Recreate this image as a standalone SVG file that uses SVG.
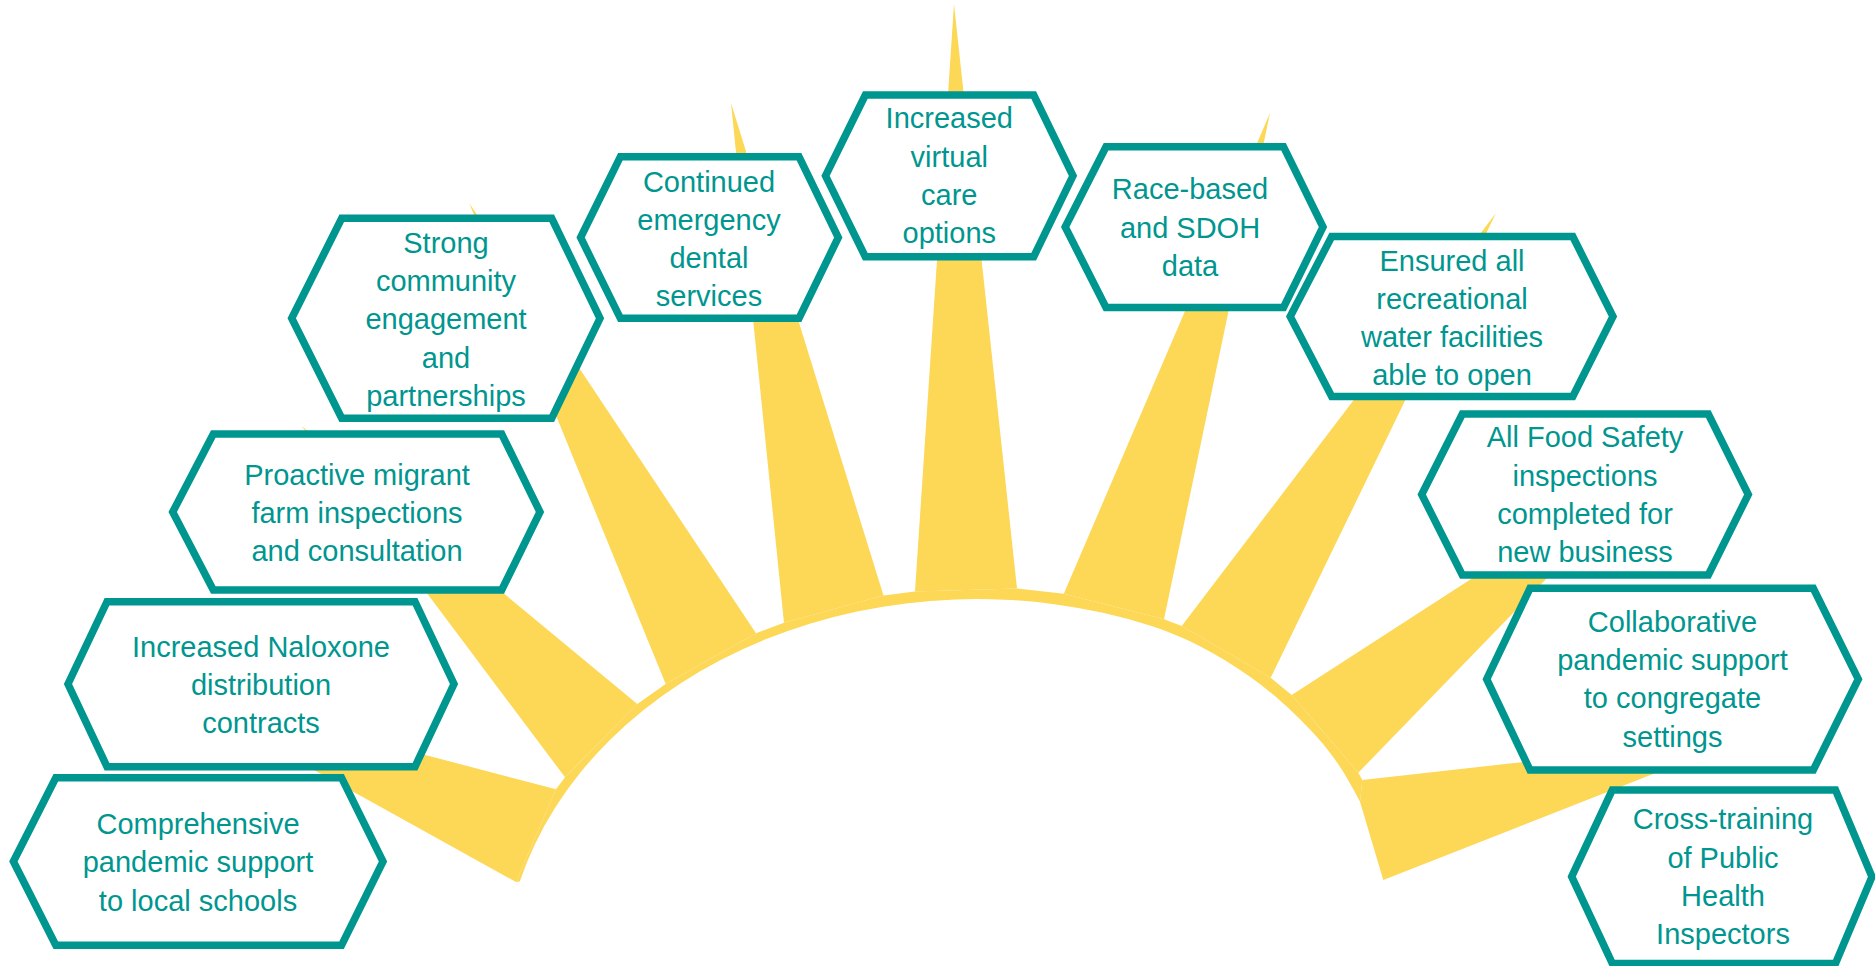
<svg xmlns="http://www.w3.org/2000/svg" width="1875" height="966" viewBox="0 0 1875 966">
<style>
.ray{fill:#FDD756;stroke:none}
.hex{fill:#FFFFFF;stroke:#009690;stroke-width:7.5;stroke-linejoin:miter}
.lbl{font-family:"Liberation Sans",Arial,sans-serif;font-size:29px;fill:#009690;text-anchor:middle}
</style>
<rect x="0" y="0" width="1875" height="966" fill="#FFFFFF"/>
<g id="sun">
  <path class="ray" d="M516,882 L556,789.3 L565,777.3 L637.3,704 L665.7,684 L756,633.3 L784,622.7 L883.5,595.6 L915,591.4 L1017,588.4 L1063.8,593.7 L1164,619.3 L1181.7,626 L1270.7,677.7 L1291.7,695 L1358.3,772.7 L1362.3,780 L1360,801.7 C1348.3,779.5 1337.7,760 1316.7,736.7 C1296.7,714.5 1272.2,692.5 1250,676.7 C1216.7,653 1183.3,636.1 1150,625.5 A474 383.5 0 0 0 519.7,881.6 Z"/>
  <polygon class="ray" points="162.7,686 556,789.3 516,882"/>
  <polygon class="ray" points="301.7,426 637.3,704 565,777.3"/>
  <polygon class="ray" points="469.3,203.3 756,633.3 665.7,684"/>
  <polygon class="ray" points="731,103 883.5,595.6 784,622.7"/>
  <polygon class="ray" points="954,4 1017,588.4 915,591.4"/>
  <polygon class="ray" points="1270,113 1164,619.3 1063.8,593.7"/>
  <polygon class="ray" points="1496,213 1270.7,677.7 1181.7,626"/>
  <polygon class="ray" points="1672,449 1358.3,772.7 1291.7,695"/>
  <polygon class="ray" points="1747,737 1383.3,880 1360,801.7 1362.3,780"/>
</g>
<g id="connectors"></g>
<g id="node-comprehensive">
  <polygon class="hex" points="13.4,861.5 55.8,777.7 341.5,777.7 383,861.5 341.5,945.3 55.8,945.3"/>
  <text class="lbl" x="198" y="834">Comprehensive</text>
  <text class="lbl" x="198" y="872.3">pandemic support</text>
  <text class="lbl" x="198" y="910.6">to local schools</text>
</g>
<g id="node-naloxone">
  <polygon class="hex" points="68,684 107,601.7 415,601.7 454,684 415,766.7 107,766.7"/>
  <text class="lbl" x="261" y="656.7">Increased Naloxone</text>
  <text class="lbl" x="261" y="695">distribution</text>
  <text class="lbl" x="261" y="733.3">contracts</text>
</g>
<g id="node-proactive">
  <polygon class="hex" points="172.7,512 213.3,434 501.7,434 540,512 501.7,590 213.3,590"/>
  <text class="lbl" x="357" y="485">Proactive migrant</text>
  <text class="lbl" x="357" y="523">farm inspections</text>
  <text class="lbl" x="357" y="561">and consultation</text>
</g>
<g id="node-strong">
  <polygon class="hex" points="291.7,318.3 341.7,218.3 551.7,218.3 600,318.3 551.7,418.3 341.7,418.3"/>
  <text class="lbl" x="446" y="252.8">Strong</text>
  <text class="lbl" x="446" y="291.1">community</text>
  <text class="lbl" x="446" y="329.4">engagement</text>
  <text class="lbl" x="446" y="367.7">and</text>
  <text class="lbl" x="446" y="406">partnerships</text>
</g>
<g id="node-dental">
  <polygon class="hex" points="580.6,237.5 620.4,156.7 799,156.7 838.3,237.5 799,318.3 620.4,318.3"/>
  <text class="lbl" x="709" y="191.5">Continued</text>
  <text class="lbl" x="709" y="229.8">emergency</text>
  <text class="lbl" x="709" y="268.1">dental</text>
  <text class="lbl" x="709" y="306.4">services</text>
</g>
<g id="node-virtual">
  <polygon class="hex" points="825.5,175.8 865.3,95 1033.7,95 1073,175.8 1033.7,256.7 865.3,256.7"/>
  <text class="lbl" x="949.3" y="128.3">Increased</text>
  <text class="lbl" x="949.3" y="166.6">virtual</text>
  <text class="lbl" x="949.3" y="204.9">care</text>
  <text class="lbl" x="949.3" y="243.2">options</text>
</g>
<g id="node-race">
  <polygon class="hex" points="1065.2,227 1106,146.7 1283.5,146.7 1323,227 1283.5,307.5 1106,307.5"/>
  <text class="lbl" x="1190" y="199.3">Race-based</text>
  <text class="lbl" x="1190" y="237.6">and SDOH</text>
  <text class="lbl" x="1190" y="275.9">data</text>
</g>
<g id="node-recreational">
  <polygon class="hex" points="1290.2,316.5 1331.7,236.6 1572.8,236.6 1613,316.5 1572.8,396.4 1331.7,396.4"/>
  <text class="lbl" x="1452" y="270.5">Ensured all</text>
  <text class="lbl" x="1452" y="308.8">recreational</text>
  <text class="lbl" x="1452" y="347.1">water facilities</text>
  <text class="lbl" x="1452" y="385.4">able to open</text>
</g>
<g id="node-food">
  <polygon class="hex" points="1421.7,494.5 1462.3,414 1708.3,414 1748.3,494.5 1708.3,575 1462.3,575"/>
  <text class="lbl" x="1585" y="447.3">All Food Safety</text>
  <text class="lbl" x="1585" y="485.6">inspections</text>
  <text class="lbl" x="1585" y="523.9">completed for</text>
  <text class="lbl" x="1585" y="562.2">new business</text>
</g>
<g id="node-collaborative">
  <polygon class="hex" points="1486.7,679.2 1530,588.3 1813.3,588.3 1858.3,679.2 1813.3,770 1530,770"/>
  <text class="lbl" x="1672.5" y="631.7">Collaborative</text>
  <text class="lbl" x="1672.5" y="670">pandemic support</text>
  <text class="lbl" x="1672.5" y="708.3">to congregate</text>
  <text class="lbl" x="1672.5" y="746.6">settings</text>
</g>
<g id="node-crosstraining">
  <polygon class="hex" points="1571.7,876.7 1612.3,790 1835.5,790 1872,876.7 1835.5,963.4 1612.3,963.4"/>
  <text class="lbl" x="1723" y="829.3">Cross-training</text>
  <text class="lbl" x="1723" y="867.6">of Public</text>
  <text class="lbl" x="1723" y="905.9">Health</text>
  <text class="lbl" x="1723" y="944.2">Inspectors</text>
</g>
</svg>
